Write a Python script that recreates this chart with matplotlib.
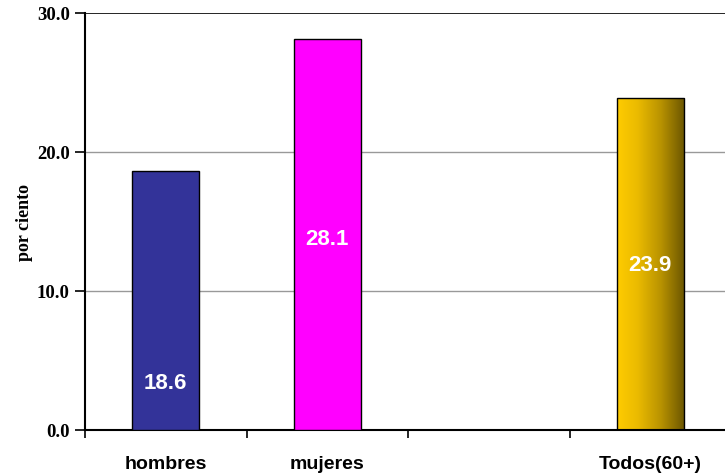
import matplotlib
matplotlib.use("Agg")
import matplotlib.pyplot as plt
import numpy as np
from matplotlib.colors import LinearSegmentedColormap

# data
categories = ["hombres", "mujeres", "", "Todos(60+)"]
values = [18.6, 28.1, None, 23.9]
bar_colors = ["#333399", "#FF00FF", None, "#FFCC00"]
label_y = [3.4, 13.8, None, 11.9]
y_ticks = [0, 10, 20, 30]

fig = plt.figure(figsize=(7.25, 4.77), dpi=100)
ax = fig.add_axes([85 / 725, 46 / 477, 646 / 725, 417 / 477])

x = np.arange(len(categories))
width = 0.415

gold_cmap = LinearSegmentedColormap.from_list(
    "gold", [(0.0, "#FFCC00"), (0.3, "#EBBB00"), (0.65, "#B89200"), (1.0, "#6A5500")]
)

for i, (val, col) in enumerate(zip(values, bar_colors)):
    if val is None:
        continue
    if i == 3:
        bar = ax.bar(x[i], val, width, color="none", edgecolor="black", linewidth=1, zorder=3)[0]
        grad = np.linspace(0, 1, 256).reshape(1, -1)
        im = ax.imshow(grad, cmap=gold_cmap, aspect="auto",
                       extent=(x[i] - width / 2, x[i] + width / 2, 0, val), zorder=2)
        im.set_clip_path(bar)
    else:
        ax.bar(x[i], val, width, color=col, edgecolor="black", linewidth=1, zorder=3)
    ax.text(x[i], label_y[i], f"{val:.1f}", ha="center", va="center", color="white",
            fontsize=16, fontweight="bold", family="Liberation Sans", zorder=4)

ax.set_xlim(-0.5, 3.5)
ax.set_ylim(0, 30)

# grid lines
for yv in [10, 20]:
    ax.axhline(yv, color="#999999", linewidth=1, zorder=1)
ax.axhline(30, color="black", linewidth=1.2, zorder=1)

ax.set_yticks(y_ticks)
ax.set_yticklabels([f"{v:.1f}" for v in y_ticks], fontsize=13.5, fontweight="bold",
                   family="Liberation Serif")
ax.tick_params(axis="y", direction="out", length=7, width=1.2, pad=4)

ax.set_xticks(x[[0, 1, 3]])
ax.set_xticklabels([categories[0], categories[1], categories[3]], fontsize=14,
                   fontweight="bold", family="Liberation Sans")
ax.set_xticks(np.arange(-0.5, 4.0, 1.0), minor=True)
ax.tick_params(axis="x", which="major", length=0, pad=18)
ax.tick_params(axis="x", which="minor", direction="out", length=6, width=1.2)

ax.set_ylabel("por ciento", fontsize=13, fontweight="bold", family="Liberation Serif",
              labelpad=3)

for side in ["top", "right"]:
    ax.spines[side].set_visible(False)
ax.spines["left"].set_linewidth(1.5)
ax.spines["bottom"].set_linewidth(1.5)

fig.savefig("out.png", dpi=100)
